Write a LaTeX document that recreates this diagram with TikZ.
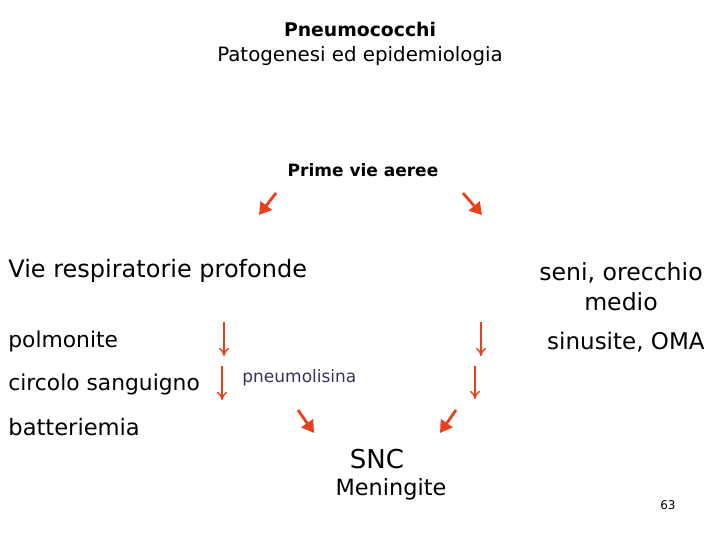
\documentclass[tikz,border=0pt]{standalone}
\usepackage{fontspec}
\setmainfont{DejaVu Sans}
\usetikzlibrary{arrows.meta}
\definecolor{arrowred}{HTML}{E8401C}
\definecolor{noteblue}{HTML}{33335F}
\begin{document}
\begin{tikzpicture}[x=0.5pt, y=-0.5pt]
        % Common Styles
        \tikzset{label/.style={inner sep=0pt, font=\fontsize{12}{14}\selectfont}}
        \tikzset{title/.style={inner sep=0pt, font=\fontsize{9.9}{12}\selectfont}}
        \tikzset{bigarrow/.style={arrowred, line width=1.4pt, -{Triangle[length=6pt, width=7pt]}}}
        \tikzset{smallarrow/.style={arrowred, line width=0.7pt, -{To[length=4pt, width=5pt]}}}
        \useasboundingbox (0, 0) rectangle (720, 540);

        % 1. Heading
        \node[title, font=\bfseries\fontsize{9.4}{12}\selectfont] (head) at (360, 29) {Pneumococchi};
        \node[title] (sub) at (360, 56) {Patogenesi ed epidemiologia};
        \node[title, font=\bfseries\fontsize{8.5}{11}\selectfont] (prime) at (363, 170) {Prime vie aeree};
        \coordinate (pl1) at (276, 193); \coordinate (pl2) at (259, 215);
        \coordinate (pr1) at (463, 193); \coordinate (pr2) at (482, 215);
        \draw[bigarrow] (pl1) -- (pl2);
        \draw[bigarrow] (pr1) -- (pr2);

        % 2. Left branch
        \node[label, anchor=west] (deep) at (8, 271) {Vie respiratorie profonde};
        \node[label, anchor=west, font=\fontsize{10.9}{13}\selectfont] (polm) at (8, 341) {polmonite};
        \node[label, anchor=west, font=\fontsize{10.9}{13}\selectfont] (circ) at (8, 384) {circolo sanguigno};
        \node[label, anchor=west, font=\fontsize{11.3}{13}\selectfont] (batt) at (8, 427) {batteriemia};
        \coordinate (dl1) at (224, 322); \coordinate (dl2) at (224, 356);
        \coordinate (dl3) at (222, 366); \coordinate (dl4) at (222, 400);
        \draw[smallarrow] (dl1) -- (dl2);
        \draw[smallarrow] (dl3) -- (dl4);
        \node[label, anchor=west, noteblue, font=\fontsize{8.5}{10}\selectfont] (pneu) at (242, 378) {pneumolisina};

        % 3. Right branch
        \node[label, align=center, font=\fontsize{11.8}{14}\selectfont] (seni) at (621, 287) {seni, orecchio\\[1pt]medio};
        \node[label, anchor=east, font=\fontsize{11.5}{14}\selectfont] (sinu) at (705, 342) {sinusite, OMA};
        \coordinate (dr1) at (481, 322); \coordinate (dr2) at (481, 356);
        \coordinate (dr3) at (475, 366); \coordinate (dr4) at (475, 399);
        \draw[smallarrow] (dr1) -- (dr2);
        \draw[smallarrow] (dr3) -- (dr4);

        % 4. Meninges
        \coordinate (ml1) at (298, 410); \coordinate (ml2) at (314, 433);
        \coordinate (mr1) at (456, 410); \coordinate (mr2) at (440, 433);
        \draw[bigarrow] (ml1) -- (ml2);
        \draw[bigarrow] (mr1) -- (mr2);
        \node[label, font=\fontsize{13}{15}\selectfont] (snc) at (377, 459) {SNC};
        \node[label, font=\fontsize{11.2}{14}\selectfont] (men) at (391, 489) {Meningite};

        \node[label, font=\fontsize{6}{8}\selectfont] (page) at (668, 505) {63};
\end{tikzpicture}
\end{document}
